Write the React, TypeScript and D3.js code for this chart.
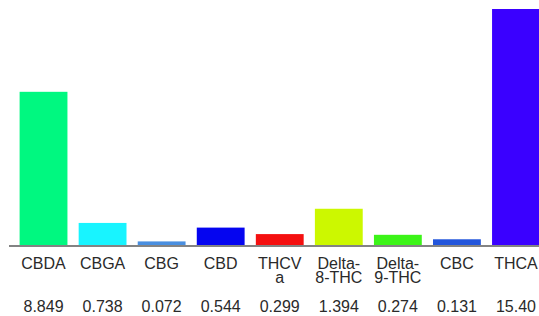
import { useMemo } from "react";
import * as d3 from "d3";

const WIDTH = 539;
const HEIGHT = 316;
const BASE_Y = 245;
const TOP_Y = 9;

// compounds, their amounts, and the bar colours
const compounds = ["CBDA", "CBGA", "CBG", "CBD", "THCVa", "Delta-8-THC", "Delta-9-THC", "CBC", "THCA"];
const labelLines = [["CBDA"], ["CBGA"], ["CBG"], ["CBD"], ["THCV", "a"], ["Delta-", "8-THC"], ["Delta-", "9-THC"], ["CBC"], ["THCA"]];
const amounts = [8.849, 0.738, 0.072, 0.544, 0.299, 1.394, 0.274, 0.131, 15.4];
const valueLabels = ["8.849", "0.738", "0.072", "0.544", "0.299", "1.394", "0.274", "0.131", "15.40"];
const colors = ["#00f880", "#18f4ff", "#4a8fe0", "#0505f0", "#f41010", "#ccf800", "#3cf418", "#2356dc", "#3a00ff"];

const App = () => {
  const xScale = useMemo(
    () => d3.scaleBand<string>().domain(compounds).range([14, 545.5]).paddingInner(0.19).paddingOuter(0.095),
    []
  );
  const yScale = useMemo(
    () => d3.scalePow().exponent(0.78).domain([0, 15.4]).range([BASE_Y, TOP_Y]),
    []
  );

  const font = '"Liberation Sans", Arial, Helvetica, sans-serif';

  return (
    <svg
      width={WIDTH}
      height={HEIGHT}
      style={{ position: "absolute", left: 0, top: 0, background: "#fff" }}
      fontFamily={font}
    >
      {compounds.map((c, i) => (
        <rect
          key={c}
          x={xScale(c)}
          y={yScale(amounts[i])}
          width={xScale.bandwidth()}
          height={BASE_Y - yScale(amounts[i])}
          fill={colors[i]}
        />
      ))}
      <line x1={9} x2={WIDTH} y1={BASE_Y + 1} y2={BASE_Y + 1} stroke="#5a5a5a" strokeWidth={1.6} />
      {compounds.map((c, i) => {
        const cx = (xScale(c) ?? 0) + xScale.bandwidth() / 2;
        return (
          <g key={c} fill="#2a2a2a" fontSize={16} textAnchor="middle">
            {labelLines[i].map((line, j) => (
              <text key={j} x={cx} y={268.5 + j * 14}>
                {line}
              </text>
            ))}
            <text x={cx} y={311.5}>
              {valueLabels[i]}
            </text>
          </g>
        );
      })}
    </svg>
  );
};

export default App;
